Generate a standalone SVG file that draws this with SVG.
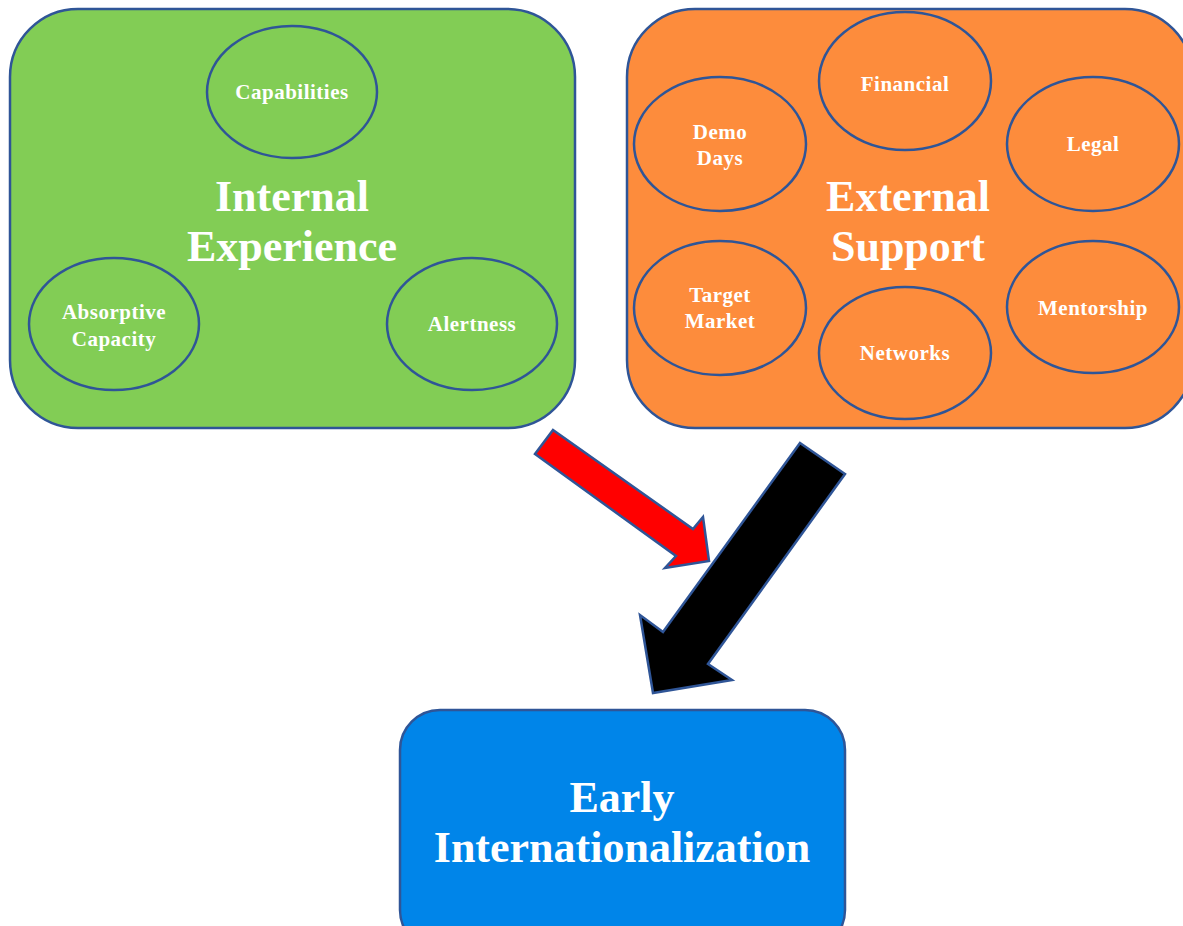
<svg xmlns="http://www.w3.org/2000/svg" width="1183" height="926" viewBox="0 0 1183 926">
  <style>
    .box { stroke: #2f5597; stroke-width: 2.5; }
    .oval { stroke: #2f5597; stroke-width: 2.5; }
    .green { fill: #82cd55; }
    .orange { fill: #fd8c3c; }
    .blue { fill: #0085e9; }
    .lbl { font-family: "Liberation Serif", "Times New Roman", serif; font-weight: bold; fill: #ffffff; font-size: 21px; letter-spacing: 0.5px; text-anchor: middle; }
    .title { font-family: "Liberation Serif", "Times New Roman", serif; font-weight: bold; fill: #ffffff; font-size: 44px; text-anchor: middle; }
    .arrow { stroke: #2f5597; stroke-width: 2.5; stroke-linejoin: miter; }
  </style>
  <rect width="1183" height="926" fill="#ffffff"/>

  <!-- Internal experience panel -->
  <g id="internal">
    <rect class="box green" x="10" y="9" width="565" height="419" rx="68" ry="68"/>
    <text class="title" x="292" y="211">Internal</text>
    <text class="title" x="292" y="261">Experience</text>
  </g>
  <g id="capabilities">
    <ellipse class="oval green" cx="292" cy="92" rx="85" ry="66"/>
    <text class="lbl" x="292" y="99">Capabilities</text>
  </g>
  <g id="absorptive">
    <ellipse class="oval green" cx="114" cy="324" rx="85" ry="66"/>
    <text class="lbl" x="114" y="319">Absorptive</text>
    <text class="lbl" x="114" y="346">Capacity</text>
  </g>
  <g id="alertness">
    <ellipse class="oval green" cx="472" cy="324" rx="85" ry="66"/>
    <text class="lbl" x="472" y="331">Alertness</text>
  </g>

  <!-- External support panel -->
  <g id="external">
    <rect class="box orange" x="627" y="9" width="566" height="419" rx="68" ry="68"/>
    <text class="title" x="908" y="211">External</text>
    <text class="title" x="908" y="261">Support</text>
  </g>
  <g id="demo">
    <ellipse class="oval orange" cx="720" cy="144" rx="86" ry="67"/>
    <text class="lbl" x="720" y="139">Demo</text>
    <text class="lbl" x="720" y="165">Days</text>
  </g>
  <g id="financial">
    <ellipse class="oval orange" cx="905" cy="81" rx="86" ry="69"/>
    <text class="lbl" x="905" y="91">Financial</text>
  </g>
  <g id="legal">
    <ellipse class="oval orange" cx="1093" cy="144" rx="86" ry="67"/>
    <text class="lbl" x="1093" y="151">Legal</text>
  </g>
  <g id="target">
    <ellipse class="oval orange" cx="720" cy="308" rx="86" ry="67"/>
    <text class="lbl" x="720" y="302">Target</text>
    <text class="lbl" x="720" y="328">Market</text>
  </g>
  <g id="networks">
    <ellipse class="oval orange" cx="905" cy="353" rx="86" ry="66"/>
    <text class="lbl" x="905" y="360">Networks</text>
  </g>
  <g id="mentorship">
    <ellipse class="oval orange" cx="1093" cy="307" rx="86" ry="66"/>
    <text class="lbl" x="1093" y="315">Mentorship</text>
  </g>

  <!-- Outcome -->
  <g id="outcome">
    <rect class="box blue" x="400" y="710" width="445" height="240" rx="40" ry="40"/>
    <text class="title" x="622" y="812">Early</text>
    <text class="title" x="622" y="862">Internationalization</text>
  </g>

  <!-- Block arrows -->
  <g id="connectors">
    <polygon class="arrow" fill="#ff0000" points="553,430 693,529 703,517 709,561 665,568 676,556 535,454"/>
    <polygon class="arrow" fill="#000000" points="800,443 845,474 708,664 732,680 653,693 640,615 663,632"/>
  </g>
</svg>
